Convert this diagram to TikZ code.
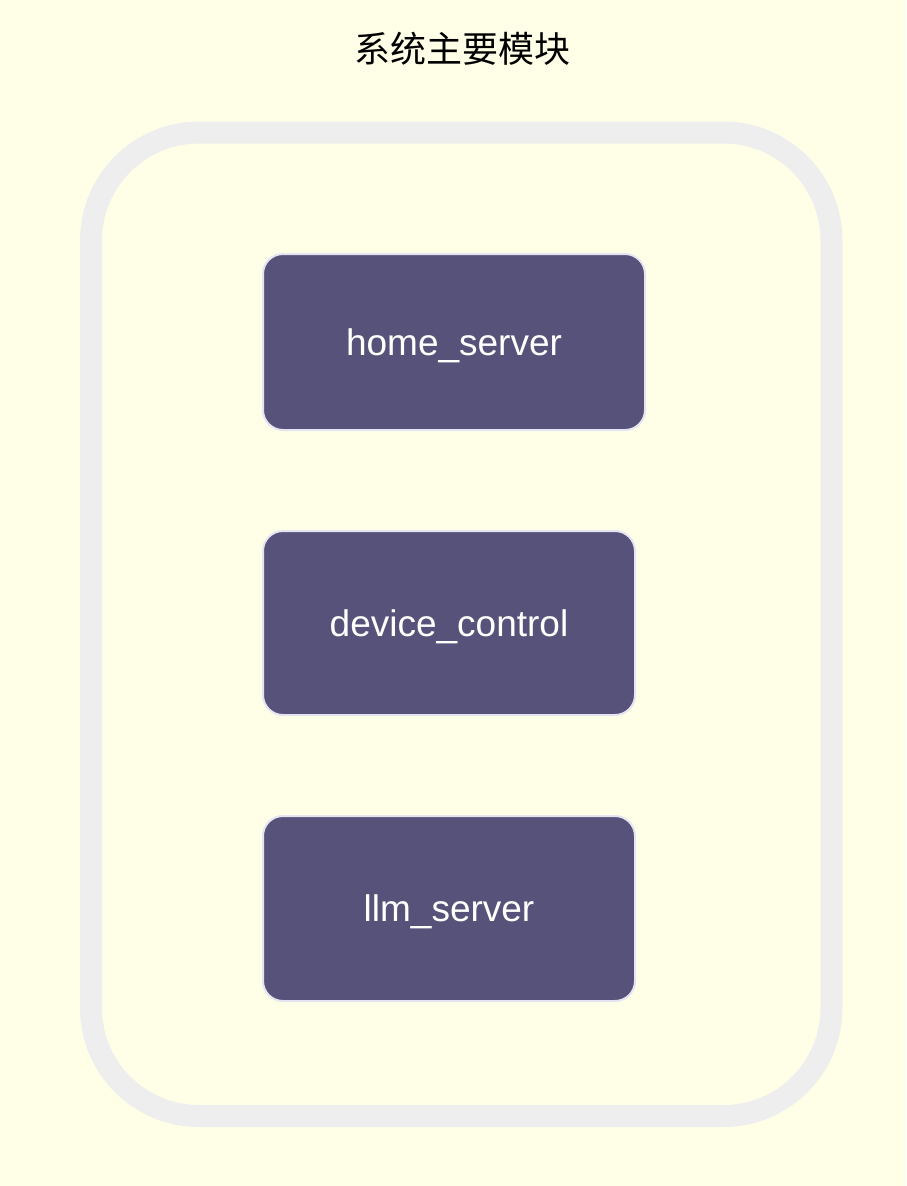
\documentclass[tikz,border=0pt]{standalone}
\usepackage{fontspec}
\setmainfont{Liberation Sans}
\newfontfamily\cjkfont{Noto Sans CJK SC}
\usetikzlibrary{positioning}
\definecolor{bgyellow}{HTML}{FFFFE8}
\definecolor{framegray}{HTML}{EEEEEE}
\definecolor{modfill}{HTML}{575279}
\definecolor{modline}{HTML}{E4E4F2}

\begin{document}
\begin{tikzpicture}[x=1pt,y=-1pt,
    module/.style={draw=modline, line width=2pt, fill=modfill, rounded corners=20pt,
        inner sep=0pt, text depth=0pt, text=white, font=\fontsize{37}{44}\selectfont},
    frame/.style={draw=framegray, line width=22pt, rounded corners=108pt}]
% Draw background
\fill[bgyellow] (0,0) rectangle (906,1186);
\useasboundingbox (0,0) rectangle (906,1186);

% Draw title
\node (title) at (462,49) {\cjkfont\fontsize{36}{43}\selectfont 系统主要模块};

% Draw frame
\draw[frame] (91,132.5) rectangle (831.5,1116);

% Draw modules
\node[module, minimum width=382pt, minimum height=176pt] (home) at (454,342) {home\_server};
\node[module, minimum width=372pt, minimum height=184pt] (device) at (449,623) {device\_control};
\node[module, minimum width=372pt, minimum height=185pt] (llm) at (449,908.5) {llm\_server};
\end{tikzpicture}
\end{document}
